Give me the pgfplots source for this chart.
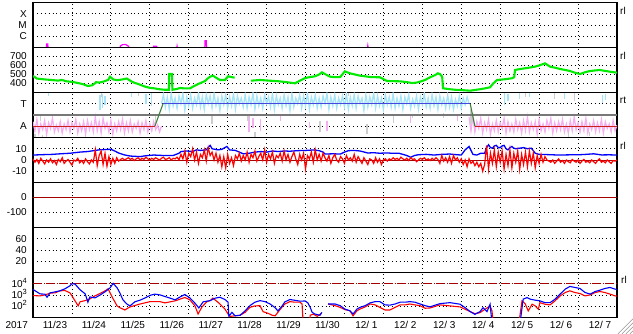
\documentclass[border=0pt]{standalone}
\usepackage{fontspec}
\setmainfont{Liberation Sans}
\usepackage{pgfplots}
\pgfplotsset{compat=1.18}
\definecolor{cMag}{RGB}{255,0,255}
\definecolor{cGreen}{RGB}{0,235,0}
\definecolor{cLBlue}{RGB}{165,228,248}
\definecolor{cPink}{RGB}{245,175,240}
\definecolor{cLGray}{RGB}{205,205,205}
\definecolor{cTRed}{RGB}{205,30,30}
\definecolor{cTBlue}{RGB}{70,70,225}
\definecolor{cTGreen}{RGB}{60,130,60}
\definecolor{cTGray}{RGB}{120,120,120}
\definecolor{cDRed}{RGB}{165,0,0}
\pgfplotsset{
 panel/.style={
  width=584pt, height=45pt, scale only axis, anchor=south west,
  xmin=0, xmax=15, xtick={1,...,14}, xticklabels={},
  grid=major,
  major grid style={black, line width=0.8pt, dash pattern=on 0.8pt off 3.1pt},
  axis line style={black, line width=1.2pt},
  major tick length=0pt,
  yticklabel style={font=\fontsize{10}{12}\selectfont, anchor=east, inner sep=0pt, xshift=-6pt},
  unbounded coords=jump,
 }
}
\begin{document}
\begin{tikzpicture}[x=1pt,y=1pt]
\useasboundingbox (0,0) rectangle (633,334);
% ---------- panel 1 : X-ray class ----------
\begin{axis}[panel, at={(33pt,286.5pt)}, ymin=0, ymax=4, ytick={1,2,3}, yticklabels={C,M,X}]
\addplot[cMag, line width=1.2pt] coordinates {(0,-0.3)(0.34,-0.3)(0.35,0.32)(0.38,0.32)(0.39,-0.3)(2.2,-0.3)(2.25,0.15)(2.3,0.25)(2.38,0.27)(2.45,0.12)(2.5,-0.3)(3.08,-0.3)(3.1,0.12)(3.18,0.1)(3.2,-0.3)(3.68,-0.3)(3.7,0.1)(3.72,-0.3)(4.41,-0.3)(4.42,0.6)(4.45,0.6)(4.46,-0.3)(8.58,-0.3)(8.6,0.15)(8.62,-0.3)(15,-0.3)};
\end{axis}
% ---------- panel 2 : speed ----------
\begin{axis}[panel, at={(33pt,241.5pt)}, ymin=300, ymax=800, ytick={400,500,600,700}, yticklabels={400,500,600,700}]
\addplot[cGreen, line width=2.1pt] coordinates {(0,482)(0.05,470)(0.10,455)(0.2,450)(0.31,445)(0.45,440)(0.57,435)(0.65,432)(0.74,440)(0.85,425)(1.0,418)(1.1,410)(1.21,400)(1.3,390)(1.41,372)(1.52,380)(1.6,405)(1.62,415)(1.7,410)(1.80,420)(1.93,440)(1.98,475)(2.06,445)(2.15,438)(2.23,440)(2.33,448)(2.41,455)(2.54,420)(2.62,405)(2.70,395)(2.80,378)(2.88,365)(3.0,352)(3.13,345)(3.25,336)(3.39,330)(3.49,330)(3.50,505)(3.57,505)(3.58,330)(3.70,340)(3.78,350)(3.9,345)(4.03,345)(4.13,370)(4.24,394)(4.33,410)(4.42,428)(4.50,460)(4.55,476)(4.62,487)(4.70,465)(4.80,439)(4.93,439)(5.01,480)(5.11,470)(5.18,465)(5.3,nan)(5.60,431)(5.83,439)(6.09,431)(6.3,425)(6.47,417)(6.6,410)(6.73,402)(6.85,430)(6.99,461)(7.1,470)(7.24,480)(7.35,500)(7.42,524)(7.50,505)(7.63,476)(7.75,470)(7.89,472)(8.01,535)(8.14,513)(8.27,500)(8.40,487)(8.53,480)(8.66,472)(8.80,470)(8.91,469)(9.09,428)(9.25,426)(9.43,424)(9.6,415)(9.74,405)(9.85,410)(9.94,420)(10.07,439)(10.20,469)(10.33,494)(10.40,513)(10.45,505)(10.51,476)(10.53,347)(10.71,336)(10.85,330)(10.97,328)(11.1,324)(11.23,320)(11.35,328)(11.48,336)(11.6,345)(11.74,358)(11.82,400)(11.92,439)(12.12,447)(12.30,458)(12.36,470)(12.38,550)(12.5,560)(12.64,569)(12.77,578)(12.89,587)(13.0,600)(13.15,624)(13.28,587)(13.41,575)(13.54,561)(13.67,550)(13.79,539)(13.92,520)(14.05,505)(14.18,525)(14.31,539)(14.44,545)(14.56,550)(14.69,540)(14.82,531)(14.92,525)(15.0,520)};
\end{axis}
% ---------- panel 3 : T / A ----------
\begin{axis}[panel, at={(33pt,196.5pt)}, ymin=0, ymax=4, ytick={1,3}, yticklabels={A,T}]
\addplot[cPink, line width=1.3pt] coordinates {(0.00,1.4)(0.05,0.6)(0.10,1.6)(0.15,0.4)(0.20,1.2)(0.25,0.7)(0.30,1.5)(0.35,0.3)(0.40,1.3)(0.45,0.8)(0.50,1.7)(0.55,0.5)(0.60,1.1)(0.65,0.6)(0.70,1.4)(0.75,0.4)(0.80,1.2)(0.85,0.7)(0.90,1.5)(0.95,0.5)(1.00,1.3)(1.05,0.8)(1.10,1.6)(1.15,0.4)(1.20,1.2)(1.25,0.6)(1.30,1.4)(1.35,0.3)(1.40,1.5)(1.45,0.7)(1.50,1.3)(1.55,0.5)(1.60,1.8)(1.65,0.6)(1.70,1.4)(1.75,0.4)(1.80,1.7)(1.85,0.8)(1.90,1.3)(1.95,0.5)(2.00,1.5)(2.05,0.3)(2.10,1.2)(2.15,0.6)(2.20,1.4)(2.25,0.7)(2.30,1.6)(2.35,0.4)(2.40,1.3)(2.45,0.6)(2.50,1.5)(2.55,0.5)(2.60,1.2)(2.65,0.8)(2.70,1.4)(2.75,0.4)(2.80,1.3)(2.85,0.7)(2.90,1.5)(2.95,0.5)(3.00,1.2)(3.05,0.6)(3.10,1.4)(3.15,0.7)(3.20,1.1)(3.25,0.5)(3.30,1.0)};
\addplot[cLBlue, line width=1.3pt] coordinates {(3.30,3.0)(3.35,3.8)(3.40,2.7)(3.45,3.6)(3.50,2.5)(3.55,3.9)(3.60,2.8)(3.65,3.5)(3.70,2.6)(3.75,3.7)(3.80,3.0)(3.85,3.9)(3.90,2.4)(3.95,3.6)(4.00,2.8)(4.05,3.8)(4.10,2.6)(4.15,3.5)(4.20,2.9)(4.25,3.95)(4.30,2.7)(4.35,3.6)(4.40,2.5)(4.45,3.8)(4.50,3.0)(4.55,3.7)(4.60,2.6)(4.65,3.9)(4.70,2.8)(4.75,3.5)(4.80,2.4)(4.85,3.7)(4.90,2.9)(4.95,3.8)(5.00,2.6)(5.05,3.6)(5.10,2.8)(5.15,3.9)(5.20,2.5)(5.25,3.7)(5.30,3.0)(5.35,3.5)(5.40,2.7)(5.45,3.8)(5.50,2.6)(5.55,3.6)(5.60,2.9)(5.65,3.95)(5.70,2.5)(5.75,3.7)(5.80,2.8)(5.85,3.5)(5.90,2.6)(5.95,3.8)(6.00,3.0)(6.05,3.6)(6.10,2.7)(6.15,3.9)(6.20,2.5)(6.25,3.7)(6.30,2.9)(6.35,3.5)(6.40,2.6)(6.45,3.8)(6.50,2.8)(6.55,3.6)(6.60,2.4)(6.65,3.9)(6.70,2.7)(6.75,3.5)(6.80,3.0)(6.85,3.8)(6.90,2.6)(6.95,3.7)(7.00,2.8)(7.05,3.95)(7.10,2.5)(7.15,3.6)(7.20,2.9)(7.25,3.8)(7.30,2.6)(7.35,3.5)(7.40,2.7)(7.45,3.7)(7.50,3.0)(7.55,3.9)(7.60,2.5)(7.65,3.6)(7.70,2.8)(7.75,3.8)(7.80,2.6)(7.85,3.5)(7.90,2.9)(7.95,3.7)(8.00,2.7)(8.05,3.9)(8.10,2.5)(8.15,3.6)(8.20,2.8)(8.25,3.8)(8.30,2.6)(8.35,3.7)(8.40,3.0)(8.45,3.5)(8.50,2.4)(8.55,3.8)(8.60,2.7)(8.65,3.6)(8.70,2.9)(8.75,3.95)(8.80,2.6)(8.85,3.7)(8.90,2.8)(8.95,3.5)(9.00,2.5)(9.05,3.8)(9.10,2.9)(9.15,3.6)(9.20,2.7)(9.25,3.9)(9.30,2.6)(9.35,3.5)(9.40,2.8)(9.45,3.7)(9.50,2.5)(9.55,3.6)(9.60,3.0)(9.65,3.8)(9.70,2.6)(9.75,3.4)(9.80,2.8)(9.85,3.7)(9.90,2.5)(9.95,3.6)(10.00,2.9)(10.05,3.9)(10.10,2.7)(10.15,3.5)(10.20,2.6)(10.25,3.8)(10.30,2.8)(10.35,3.6)(10.40,2.5)(10.45,3.7)(10.50,2.9)(10.55,3.5)(10.60,2.6)(10.65,3.8)(10.70,2.7)(10.75,3.6)(10.80,2.5)(10.85,3.4)(10.90,2.8)(10.95,3.7)(11.00,2.6)(11.05,3.5)(11.10,2.9)(11.15,3.6)(11.20,3.0)};
\addplot[cPink, line width=1.3pt] coordinates {(11.20,1.8)(11.25,0.6)(11.30,1.9)(11.35,0.5)(11.40,1.4)(11.45,0.8)(11.50,1.7)(11.55,0.4)(11.60,1.3)(11.65,0.7)(11.70,1.6)(11.75,0.3)(11.80,1.2)(11.85,0.6)(11.90,1.5)(11.95,0.5)(12.00,1.3)(12.05,0.8)(12.10,1.7)(12.15,0.4)(12.20,1.4)(12.25,0.6)(12.30,1.2)(12.35,0.5)(12.40,1.6)(12.45,0.7)(12.50,1.3)(12.55,0.4)(12.60,1.5)(12.65,0.6)(12.70,1.8)(12.75,0.5)(12.80,1.3)(12.85,0.7)(12.90,1.4)(12.95,0.3)(13.00,1.6)(13.05,0.6)(13.10,1.2)(13.15,0.5)(13.20,1.5)(13.25,0.8)(13.30,1.7)(13.35,0.4)(13.40,1.3)(13.45,0.6)(13.50,1.4)(13.55,0.7)(13.60,1.6)(13.65,0.5)(13.70,1.2)(13.75,0.4)(13.80,1.5)(13.85,0.6)(13.90,1.8)(13.95,0.7)(14.00,1.3)(14.05,0.5)(14.10,1.4)(14.15,0.6)(14.20,1.7)(14.25,0.4)(14.30,1.2)(14.35,0.7)(14.40,1.5)(14.45,0.5)(14.50,1.3)(14.55,0.6)(14.60,1.6)(14.65,0.4)(14.70,1.4)(14.75,0.8)(14.80,1.2)(14.85,0.5)(14.90,1.5)(14.95,0.6)(15.00,1.1)};
\addplot[cPink, line width=1.2pt] coordinates {(5.55,0.5)(5.55,2.0)(5.57,nan)(5.65,0.8)(5.65,1.7)(5.67,nan)(5.85,0.6)(5.85,1.6)(5.87,nan)(6.35,1.5)(6.35,2.0)(6.37,nan)(7.1,0.8)(7.1,1.4)(7.12,nan)(7.55,0.6)(7.55,1.5)(7.57,nan)(9.7,1.3)(9.7,2.0)(9.72,nan)(10.9,1.5)(10.9,2.0)};
\addplot[cLBlue, line width=1.2pt] coordinates {(0.4,3.7)(0.4,3.95)(0.42,nan)(1.72,2.4)(1.72,3.8)(1.75,nan)(1.78,2.6)(1.78,3.9)(1.8,nan)(1.85,2.9)(1.85,3.7)(1.87,nan)(2.52,3.6)(2.52,3.95)(2.55,nan)(2.9,3.0)(2.9,3.9)(2.92,nan)(3.05,2.8)(3.05,3.95)(3.07,nan)(12.12,2.9)(12.12,3.95)(12.14,nan)(12.2,3.2)(12.2,3.9)(12.22,nan)(12.5,3.4)(12.5,3.95)(12.52,nan)(12.76,3.6)(12.76,3.95)(12.78,nan)(13.66,3.4)(13.66,3.95)(13.68,nan)(14.62,3.1)(14.62,3.8)(14.64,nan)(14.7,3.3)(14.7,3.9)};
\addplot[cLGray, line width=1.2pt] coordinates {(0.05,0.05)(0.05,0.3)(0.07,nan)(0.25,0.05)(0.25,0.25)(0.27,nan)(0.2,1.5)(0.2,1.9)(0.22,nan)(1.75,3.6)(1.75,3.95)(1.77,nan)(2.7,3.7)(2.7,3.95)(2.72,nan)(3.15,1.3)(3.15,2.0)(3.17,nan)(4.6,1.2)(4.6,1.9)(4.62,nan)(5.52,1.5)(5.52,2.0)(5.54,nan)(5.7,0.05)(5.7,0.5)(5.72,nan)(7.37,0.5)(7.37,1.5)(7.39,nan)(8.1,3.7)(8.1,3.98)(8.12,nan)(8.58,0.3)(8.58,1.2)(8.6,nan)(9.25,1.3)(9.25,1.9)(9.27,nan)(9.75,1.7)(9.75,2.1)(9.77,nan)(10.55,1.7)(10.55,2.2)(10.57,nan)(10.65,3.7)(10.65,3.98)(10.67,nan)(11.25,1.2)(11.25,2.5)(11.27,nan)(12.65,3.6)(12.65,3.98)(12.67,nan)(13.4,3.4)(13.4,3.98)(13.42,nan)(13.75,0.05)(13.75,0.6)(13.77,nan)(13.9,3.2)(13.9,3.98)(13.92,nan)(14.3,0.1)(14.3,0.5)};
\addplot[cTGray, line width=1.3pt] coordinates {(0,2)(15,2)};
\addplot[cTRed, line width=1.1pt] coordinates {(0,1)(3.13,1)};
\addplot[cTGreen, line width=1.1pt] coordinates {(3.13,1)(3.34,3)};
\addplot[cTBlue, line width=1.1pt] coordinates {(3.34,3)(11.23,3)};
\addplot[cTGreen, line width=1.1pt] coordinates {(11.23,3)(11.35,1)};
\addplot[cTRed, line width=1.1pt] coordinates {(11.35,1)(15,1)};
\end{axis}
% ---------- panel 4 : field ----------
\begin{axis}[panel, at={(33pt,151.5pt)}, ymin=-20, ymax=20, ytick={-10,0,10}, yticklabels={-10,0,10}]
\addplot[cDRed, line width=0.8pt] coordinates {(0,0)(15,0)};
\addplot[blue, line width=1.3pt] coordinates {(0,4.4)(0.3,4.8)(0.5,5)(0.7,5.5)(0.95,6)(1.2,7)(1.4,7.5)(1.5,8)(1.6,8.5)(1.7,9)(1.85,9.3)(2.0,9.5)(2.1,8)(2.2,6.2)(2.35,4.5)(2.5,3.5)(2.75,3)(2.9,3.8)(3.1,4.4)(3.35,4)(3.6,4)(3.75,6)(3.8,7.5)(3.95,8)(4.1,7.5)(4.2,9)(4.3,8.5)(4.45,9)(4.55,13)(4.6,10)(4.75,9)(4.85,9.5)(4.98,12)(5.05,9)(5.2,8.5)(5.3,7)(5.4,5.5)(5.55,6)(5.7,7)(5.85,7.5)(6.0,7)(6.15,8)(6.3,7.5)(6.45,8)(6.6,7.8)(6.8,8.3)(7.0,8.5)(7.2,8.9)(7.35,8.3)(7.45,7)(7.5,5.3)(7.7,5.5)(7.9,5.3)(8.0,7)(8.1,8.3)(8.25,8.5)(8.4,8)(8.6,6.2)(8.75,6.5)(8.9,6)(9.1,6.3)(9.2,6)(9.4,6)(9.6,4)(9.7,2.4)(9.8,4)(9.9,4.7)(10.1,5)(10.3,4.4)(10.5,5)(10.7,5.3)(10.85,4.8)(11.0,4.4)(11.1,9)(11.2,12)(11.3,5)(11.4,4.4)(11.5,6)(11.6,6)(11.65,11)(11.7,13.5)(11.75,11)(11.8,10.5)(11.85,12.5)(11.9,13)(11.95,11)(12.0,11)(12.05,12.5)(12.1,13)(12.15,10)(12.2,9)(12.25,11)(12.3,12)(12.35,10.5)(12.4,10)(12.5,10.5)(12.6,11)(12.7,10)(12.8,10.5)(12.9,6)(13.0,5)(13.2,4.8)(13.5,4.4)(13.8,4.6)(14.0,4.6)(14.2,5)(14.4,5.5)(14.6,4.5)(14.8,4.6)(15.0,4.4)};
\addplot[red, line width=1.2pt] coordinates {(0.00,1)(0.05,-2)(0.10,0.5)(0.15,-3)(0.20,1.5)(0.25,-1)(0.30,-3.5)(0.35,0)(0.40,-2)(0.45,1)(0.50,-2.5)(0.55,-0.5)(0.60,-4)(0.65,0.5)(0.70,-1.5)(0.75,2)(0.80,-3)(0.85,-1)(0.90,0.5)(0.95,-2)(1.00,-4.5)(1.05,0)(1.10,-1)(1.15,1.5)(1.20,-2.5)(1.25,-0.5)(1.30,-3)(1.35,1)(1.40,-1.5)(1.45,-3.5)(1.50,0)(1.55,-2)(1.60,9)(1.65,-5)(1.70,4)(1.75,8)(1.80,-4)(1.85,6)(1.90,-5.5)(1.95,3)(2.00,-4)(2.05,1.5)(2.10,-3)(2.15,2)(2.20,-1)(2.25,0.5)(2.30,1.5)(2.35,0)(2.40,1)(2.45,2)(2.50,0.5)(2.55,1.5)(2.60,-0.5)(2.65,1)(2.70,2)(2.75,0)(2.80,1.5)(2.85,0.5)(2.90,2.5)(2.95,1)(3.00,0)(3.05,1.5)(3.10,0.5)(3.15,2)(3.20,1)(3.25,0)(3.30,1.5)(3.35,2.5)(3.40,0.5)(3.45,1)(3.50,2)(3.55,0)(3.60,1.5)(3.65,1)(3.70,2.5)(3.75,0)(3.80,5)(3.85,1)(3.90,8)(3.95,-2)(4.00,6)(4.05,3)(4.10,10)(4.15,0)(4.20,7)(4.25,-3)(4.30,5)(4.35,2)(4.40,9)(4.45,-1)(4.50,11)(4.55,4)(4.60,7)(4.65,0)(4.70,6)(4.75,-2)(4.80,4)(4.85,-6)(4.90,3)(4.95,-7)(5.00,5)(5.05,-3)(5.10,2)(5.15,-5)(5.20,4)(5.25,1)(5.30,6)(5.35,-1)(5.40,4)(5.45,0)(5.50,7)(5.55,-2)(5.60,5)(5.65,2)(5.70,8)(5.75,-1)(5.80,3)(5.85,6)(5.90,0)(5.95,9)(6.00,-2)(6.05,5)(6.10,1)(6.15,7)(6.20,-3)(6.25,4)(6.30,2)(6.35,6)(6.40,-1)(6.45,8)(6.50,0)(6.55,5)(6.60,-2)(6.65,3)(6.70,7)(6.75,1)(6.80,-4)(6.85,5)(6.90,0)(6.95,6)(7.00,-8)(7.05,4)(7.10,1)(7.15,7)(7.20,-2)(7.25,9)(7.30,0)(7.35,5)(7.40,-1)(7.45,6)(7.50,2)(7.55,-1)(7.60,4)(7.65,-3)(7.70,2)(7.75,5)(7.80,0)(7.85,-2)(7.90,3)(7.95,1)(8.00,-3)(8.05,4)(8.10,0)(8.15,2)(8.20,-1)(8.25,5)(8.30,-2)(8.35,3)(8.40,0)(8.45,-3)(8.50,2)(8.55,-1)(8.60,-4)(8.65,1)(8.70,0)(8.75,-3)(8.80,2)(8.85,-2)(8.90,1)(8.95,-4)(9.00,0)(9.05,1)(9.10,-1)(9.15,1)(9.20,0)(9.25,2)(9.30,0.5)(9.35,1.5)(9.40,0)(9.45,2.5)(9.50,1)(9.55,0)(9.60,1.5)(9.65,-0.5)(9.70,2)(9.75,0.5)(9.80,1)(9.85,-1.5)(9.90,0)(9.95,1.5)(10.00,0.5)(10.05,2)(10.10,0)(10.15,1)(10.20,-0.5)(10.25,1.5)(10.30,0)(10.35,2)(10.40,0.5)(10.45,-3)(10.50,4)(10.55,-1)(10.60,2)(10.65,-2)(10.70,3)(10.75,-3)(10.80,4)(10.85,0)(10.90,2)(10.95,-2)(11.00,1)(11.05,-4)(11.10,0)(11.15,-6)(11.20,1)(11.25,-3)(11.30,-1)(11.35,-5)(11.40,-2)(11.45,-6)(11.50,-3)(11.55,-10)(11.60,-4)(11.65,13)(11.70,-8)(11.75,6)(11.80,-3)(11.85,9)(11.90,-6)(11.95,7)(12.00,-2)(12.05,8)(12.10,-8)(12.15,5)(12.20,-5)(12.25,9)(12.30,-7)(12.35,6)(12.40,-2)(12.45,8)(12.50,-8.5)(12.55,5)(12.60,-4)(12.65,7)(12.70,-6)(12.75,8)(12.80,-3)(12.85,6)(12.90,-7)(12.95,4)(13.00,-3)(13.05,5)(13.10,-2)(13.15,3)(13.20,0)(13.25,-1)(13.30,-2)(13.35,0)(13.40,-3)(13.45,-1)(13.50,1)(13.55,-2)(13.60,-0.5)(13.65,-3)(13.70,0)(13.75,-1.5)(13.80,-2.5)(13.85,0.5)(13.90,-1)(13.95,-2)(14.00,0)(14.05,-3)(14.10,-1)(14.15,0.5)(14.20,-2)(14.25,-1)(14.30,-2.5)(14.35,0)(14.40,-1.5)(14.45,-3)(14.50,-0.5)(14.55,1)(14.60,-2)(14.65,-1)(14.70,-2.5)(14.75,0)(14.80,-1.5)(14.85,-3)(14.90,-0.5)(14.95,-1)(15.00,0)};
\end{axis}
% ---------- panel 5 ----------
\begin{axis}[panel, at={(33pt,106.5pt)}, ymin=-200, ymax=100, ytick={-100,0}, yticklabels={-100,0}]
\addplot[cDRed, line width=1pt] coordinates {(0,0)(15,0)};
\end{axis}
% ---------- panel 6 ----------
\begin{axis}[panel, at={(33pt,61.5pt)}, ymin=0, ymax=80, ytick={20,40,60}, yticklabels={20,40,60}]
\end{axis}
% ---------- panel 7 : log flux ----------
\begin{axis}[panel, at={(33pt,16.5pt)}, ymin=1, ymax=5, ytick={2,3}, extra y ticks={4},
  yticklabels={10\smash{\raisebox{3.8pt}{\fontsize{7.5}{7.5}\selectfont 2}},10\smash{\raisebox{3.8pt}{\fontsize{7.5}{7.5}\selectfont 3}}},
  extra y tick labels={10\smash{\raisebox{3.8pt}{\fontsize{7.5}{7.5}\selectfont 4}}},
  extra y tick style={grid=none},
  extra x ticks={0.5,1.5,...,14.5},
  extra x tick labels={11/23,11/24,11/25,11/26,11/27,11/28,11/29,11/30,12/\ 1,12/\ 2,12/\ 3,12/\ 4,12/\ 5,12/\ 6,12/\ 7},
  extra x tick style={grid=none},
  xticklabel style={font=\fontsize{10}{12}\selectfont, anchor=base, inner sep=0pt, yshift=-11.5pt, xshift=2.5pt}]
\addplot[cDRed, line width=1.2pt, dash pattern=on 9pt off 1.5pt on 1pt off 1.5pt] coordinates {(0,4)(15,4)};
\addplot[red, line width=1.1pt] coordinates {(0.0,2.95)(0.18,2.92)(0.31,3.01)(0.44,3.17)(0.57,3.19)(0.69,3.37)(0.82,3.4)(0.95,3.19)(1.00,2.92)(1.08,2.48)(1.16,2.03)(1.21,2.4)(1.34,2.5)(1.46,2.65)(1.59,2.92)(1.72,3.13)(1.85,3.37)(1.93,3.55)(1.98,3.19)(2.06,2.65)(2.16,2.03)(2.23,1.87)(2.36,1.67)(2.49,1.94)(2.75,2.2)(3.01,2.41)(3.26,2.41)(3.39,2.3)(3.65,2.48)(3.90,2.78)(4.03,2.57)(4.16,2.03)(4.24,1.31)(4.34,1.94)(4.47,2.42)(4.55,2.5)(4.62,2.72)(4.75,2.36)(4.85,2.03)(4.93,1.75)(5.01,1.31)(5.06,1.1)(5.19,1.15)(5.32,1.2)(5.45,1.46)(5.57,1.9)(5.70,2.03)(5.83,2.05)(5.91,1.52)(6.04,1.37)(6.14,1.2)(6.22,1.15)(6.29,1.46)(6.40,1.94)(6.47,2.2)(6.60,2.41)(6.73,2.36)(6.86,2.36)(6.91,2.2)(6.94,0.5)(7.1,0.5)(7.12,1.2)(7.2,1.3)(7.3,1.1)(7.4,1.35)(7.45,nan)(7.58,2.2)(7.76,2.05)(7.89,1.9)(8.01,1.7)(8.14,1.6)(8.22,1.15)(8.32,1.6)(8.40,1.75)(8.53,1.94)(8.66,2.2)(8.79,2.12)(8.91,1.9)(9.04,1.67)(9.17,1.67)(9.30,1.9)(9.43,2.12)(9.56,2.12)(9.68,2.2)(9.81,2.12)(9.94,2.05)(10.07,1.82)(10.20,1.85)(10.45,2.12)(10.71,2.03)(10.97,1.94)(11.10,1.73)(11.23,1.52)(11.35,1.34)(11.48,1.43)(11.61,1.73)(11.74,2.03)(11.79,1.58)(11.82,0.5)(11.85,nan)(12.48,0.5)(12.56,2.48)(12.64,2.23)(12.72,1.58)(12.82,2.18)(12.90,2.03)(12.98,1.73)(13.02,2.32)(13.15,2.18)(13.28,2.12)(13.41,2.48)(13.54,2.92)(13.67,3.22)(13.79,3.37)(13.92,3.22)(14.05,3.13)(14.18,2.92)(14.31,3.01)(14.44,3.22)(14.56,3.31)(14.69,3.22)(14.82,3.08)(14.95,2.92)(15.0,2.9)};
\addplot[blue, line width=1.1pt] coordinates {(0.0,3.49)(0.18,3.1)(0.31,3.07)(0.36,2.8)(0.44,3.19)(0.57,3.28)(0.69,3.37)(0.82,3.55)(0.95,3.82)(1.00,4.0)(1.08,3.97)(1.21,3.46)(1.34,3.1)(1.41,2.36)(1.46,2.83)(1.59,2.74)(1.72,2.99)(1.85,3.28)(1.98,3.64)(2.06,4.03)(2.16,3.64)(2.23,3.19)(2.31,2.57)(2.41,2.2)(2.49,2.03)(2.62,2.4)(2.75,2.54)(2.88,2.74)(3.01,2.97)(3.13,3.08)(3.26,3.01)(3.52,2.72)(3.65,2.57)(3.78,2.83)(3.90,3.04)(4.03,2.74)(4.16,2.27)(4.26,1.85)(4.37,2.39)(4.55,2.5)(4.68,2.72)(4.80,2.8)(4.93,2.6)(5.01,2.36)(5.03,1.1)(5.11,1.46)(5.19,1.15)(5.32,1.2)(5.45,1.6)(5.57,2.05)(5.70,2.36)(5.83,2.5)(5.96,2.41)(6.09,2.2)(6.22,1.87)(6.29,1.58)(6.40,2.03)(6.47,2.39)(6.60,2.6)(6.86,2.45)(6.99,2.47)(7.06,2.3)(7.12,1.9)(7.17,1.46)(7.24,1.31)(7.37,1.2)(7.42,1.46)(7.45,nan)(7.58,2.2)(7.76,2.2)(7.89,2.05)(8.01,1.75)(8.14,1.6)(8.22,1.31)(8.32,1.75)(8.40,1.9)(8.53,2.05)(8.66,2.3)(8.79,2.41)(8.91,2.41)(9.04,2.12)(9.17,2.1)(9.30,2.2)(9.43,2.36)(9.56,2.36)(9.68,2.41)(9.81,2.36)(9.94,2.2)(10.07,2.05)(10.20,1.95)(10.45,2.23)(10.71,2.32)(10.97,2.18)(11.10,1.87)(11.23,1.52)(11.35,1.28)(11.48,1.52)(11.56,1.87)(11.66,1.52)(11.74,2.18)(11.79,0.5)(11.8,nan)(12.51,0.5)(12.59,2.63)(12.69,2.77)(12.77,2.63)(12.90,2.54)(13.02,2.48)(13.15,2.32)(13.28,2.32)(13.41,2.63)(13.54,3.08)(13.67,3.52)(13.79,3.76)(13.92,3.67)(14.05,3.58)(14.18,3.22)(14.31,3.08)(14.44,3.31)(14.56,3.43)(14.69,3.58)(14.82,3.67)(14.95,3.52)(15.0,3.5)};
\end{axis}
% ---------- free labels ----------
\node[anchor=base, inner sep=0pt, font=\fontsize{10}{12}\selectfont] at (16.7,5) {2017};
\node[anchor=base, inner sep=0pt, font=\fontsize{10}{12}\selectfont] at (623,319) {rl};
\node[anchor=base, inner sep=0pt, font=\fontsize{10}{12}\selectfont] at (623,274.7) {rl};
\node[anchor=base, inner sep=0pt, font=\fontsize{10}{12}\selectfont] at (623,230.7) {rt};
\node[anchor=base, inner sep=0pt, font=\fontsize{10}{12}\selectfont] at (623,184.7) {rl};
\node[anchor=base, inner sep=0pt, font=\fontsize{10}{12}\selectfont] at (624,50.7) {rl};
% resize grip
\foreach \d in {3,7,11,15} {
  \draw[gray!70, line width=0.8pt] (633-\d,0) -- (633,\d);
  \draw[white, line width=0.6pt] (633-\d+1,0) -- (633,\d-1);
}
\end{tikzpicture}
\end{document}
